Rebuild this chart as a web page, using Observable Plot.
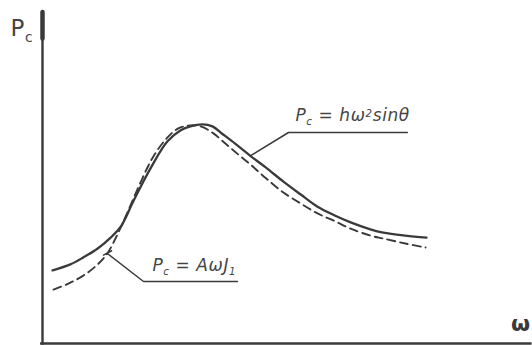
<!DOCTYPE html>
<html>
<head>
<meta charset="utf-8">
<script src="https://cdn.jsdelivr.net/npm/d3@7"></script>
<script src="https://cdn.jsdelivr.net/npm/@observablehq/plot@0.6"></script>
<style>
  html, body { margin: 0; padding: 0; background: #fff; }
  #chart svg { display: block; overflow: visible; }
</style>
</head>
<body>
<div id="chart"></div>
<script>
// Frequency ω (arbitrary units) and resulting force P_c, two models.
const omegaSolid = [0.21, 0.58, 0.85, 1.15, 1.42, 1.63, 1.90, 2.25, 2.60, 2.88, 3.08, 3.33, 3.54, 3.75, 4.02, 4.33, 4.65, 5.02, 5.38, 5.73, 6.10, 6.42, 6.83, 7.10, 7.56, 8.00];
const pSolid     = [2.21, 2.39, 2.60, 2.87, 3.20, 3.53, 4.32, 5.29, 6.10, 6.44, 6.56, 6.62, 6.56, 6.33, 6.03, 5.67, 5.32, 4.89, 4.50, 4.13, 3.86, 3.66, 3.45, 3.35, 3.26, 3.20];

const omegaDashed = [0.23, 0.54, 0.85, 1.15, 1.35, 1.56, 1.77, 2.04, 2.31, 2.60, 2.83, 3.08, 3.29, 3.54, 3.81, 4.08, 4.33, 4.65, 5.02, 5.38, 5.73, 6.10, 6.42, 6.83, 7.10, 7.56, 7.98];
const pDashed     = [1.63, 1.81, 2.05, 2.39, 2.72, 3.29, 3.96, 4.86, 5.65, 6.22, 6.50, 6.59, 6.56, 6.37, 6.04, 5.71, 5.41, 5.00, 4.56, 4.23, 3.93, 3.69, 3.47, 3.26, 3.17, 3.02, 2.90];

// Formula labels: "_x" is a subscript, "^x" a superscript.
const formulaText = ["P_c = hω^2sinθ", "P_c = AωJ_1"];
const axisTitleY = "P_c";
const axisTitleX = "ω";

// Which curve point each formula's leader line touches.
const leaderTarget = [[omegaSolid[15], pSolid[15]], [omegaDashed[4], pDashed[4]]];

const ink = "#3a3a3a";
const textInk = "#454545";

const chart = Plot.plot({
  width: 532,
  height: 345,
  marginLeft: 42,
  marginRight: 10,
  marginTop: 12,
  marginBottom: 2,
  x: {domain: [0, 10], axis: null},
  y: {domain: [0, 10], axis: null},
  style: {background: "#fff", fontFamily: "DejaVu Sans"},
  marks: [
    // axes
    Plot.ruleY([0], {x1: -0.04, x2: 10.2, stroke: ink, strokeWidth: 2.6}),
    Plot.ruleX([0], {y1: -0.05, y2: 10, stroke: ink, strokeWidth: 2.4}),
    Plot.ruleX([0], {y1: 9.2, y2: 10, stroke: ink, strokeWidth: 4.5, strokeLinecap: "round"}),

    // P_c = hω² sinθ (solid)
    Plot.line({length: omegaSolid.length}, {
      x: omegaSolid, y: pSolid, curve: "catmull-rom",
      stroke: ink, strokeWidth: 2.3
    }),
    // P_c = AωJ₁ (dashed)
    Plot.line({length: omegaDashed.length}, {
      x: omegaDashed, y: pDashed, curve: "catmull-rom",
      stroke: ink, strokeWidth: 1.9, strokeDasharray: "8,5"
    }),

    // leader lines with underlines
    Plot.line([leaderTarget[0], [5.125, 6.375], [7.60, 6.375]], {
      x: d => d[0], y: d => d[1], stroke: ink, strokeWidth: 1.5
    }),
    Plot.line([leaderTarget[1], [2.104, 1.873], [4.06, 1.873]], {
      x: d => d[0], y: d => d[1], stroke: ink, strokeWidth: 1.5
    }),
    Plot.link([0], {
      x1: leaderTarget[1][0] - 0.09, y1: leaderTarget[1][1] - 0.06,
      x2: leaderTarget[1][0] + 0.1, y2: leaderTarget[1][1] + 0.09,
      stroke: ink, strokeWidth: 1.5
    }),

    // formula labels
    Plot.text([formulaText[0]], {
      x: 5.27, y: 6.88, text: d => d, textAnchor: "start",
      fontSize: 17, fontStyle: "italic", fill: textInk
    }),
    Plot.text([formulaText[1]], {
      x: 2.29, y: 2.35, text: d => d, textAnchor: "start",
      fontSize: 17, fontStyle: "italic", fill: textInk
    }),

    // axis titles
    Plot.text([axisTitleY], {
      x: -0.667, y: 9.51, text: d => d, textAnchor: "start",
      fontSize: 23, fill: textInk
    }),
    Plot.text([axisTitleX], {
      x: 9.96, y: 0.6, text: d => d, textAnchor: "middle",
      fontSize: 22, fontWeight: "bold", fill: ink
    })
  ]
});

// Turn "_x" / "^x" markers into subscript / superscript tspans.
const NS = "http://www.w3.org/2000/svg";
chart.querySelectorAll("text").forEach(el => {
  const s = el.textContent;
  if (!/[_^]/.test(s)) return;
  el.textContent = "";
  el.setAttribute("letter-spacing", "0.6");
  const tokens = s.match(/[_^].|[^_^]+/g);
  let shift = 0;
  for (const tok of tokens) {
    const t = document.createElementNS(NS, "tspan");
    if (tok[0] === "_" || tok[0] === "^") {
      const dy = tok[0] === "_" ? 0.42 : -0.45;
      t.setAttribute("dy", `${dy - shift}em`);
      t.setAttribute("font-size", "60%");
      shift = dy;
      t.textContent = tok[1];
    } else {
      if (shift) t.setAttribute("dy", `${-shift * 0.6}em`);
      shift = 0;
      t.textContent = tok;
    }
    el.appendChild(t);
  }
});

document.getElementById("chart").appendChild(chart);
</script>
</body>
</html>
